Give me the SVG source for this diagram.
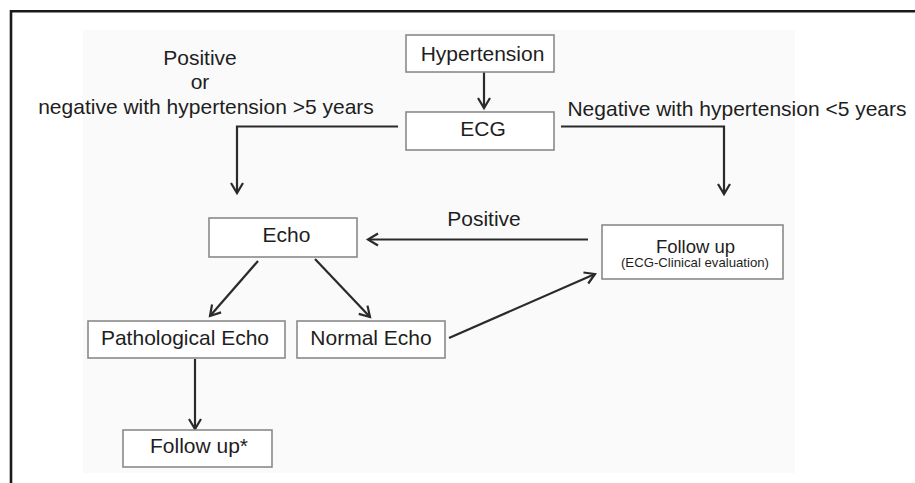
<svg xmlns="http://www.w3.org/2000/svg" width="915" height="483" viewBox="0 0 915 483">
<defs>
<style>
.box{fill:#ffffff;stroke:#8a8a8a;stroke-width:1.6}
.t{font-family:"Liberation Sans",Arial,sans-serif;font-size:21px;fill:#1e1e1e;text-anchor:middle}
.s{font-family:"Liberation Sans",Arial,sans-serif;font-size:13.2px;fill:#1e1e1e;text-anchor:middle}
.c{fill:none;stroke:#2a2a2a;stroke-width:2.2}
</style>
<marker id="arr" markerUnits="userSpaceOnUse" markerWidth="16" markerHeight="16" viewBox="-12 -8 14 16" refX="0" refY="0" orient="auto">
<path d="M-10,-6 L0,0 L-10,6" fill="none" stroke="#2a2a2a" stroke-width="2.2"/>
</marker>
</defs>
<rect x="0" y="0" width="915" height="483" fill="#ffffff"/>
<rect x="83" y="30" width="712" height="443" fill="#fafafa"/>
<path d="M11,483 V11.3 H915" fill="none" stroke="#1a1a1a" stroke-width="2.6"/>

<g id="labels">
<text class="t" x="200" y="65">Positive</text>
<text class="t" x="200" y="89">or</text>
<text class="t" x="206" y="114">negative with hypertension &gt;5 years</text>
<text class="t" x="737" y="115.5">Negative with hypertension &lt;5 years</text>
<text class="t" x="484" y="225.5">Positive</text>
</g>

<g id="connectors">
<line class="c" x1="484" y1="72" x2="484" y2="108" marker-end="url(#arr)"/>
<path class="c" d="M398,126.5 H237 V193" marker-end="url(#arr)" stroke-width="2.8"/>
<path class="c" d="M561,126.5 H724 V194" marker-end="url(#arr)" stroke-width="2.8"/>
<line class="c" x1="588" y1="239.5" x2="368" y2="239.5" marker-end="url(#arr)" stroke-width="2.6"/>
<line class="c" x1="258" y1="261" x2="210" y2="316" marker-end="url(#arr)"/>
<line class="c" x1="315" y1="259" x2="370" y2="317" marker-end="url(#arr)"/>
<line class="c" x1="449" y1="338" x2="595" y2="274" marker-end="url(#arr)"/>
<line class="c" x1="195" y1="359" x2="195" y2="429" marker-end="url(#arr)"/>
</g>

<g id="hypertension">
<rect class="box" x="406" y="35" width="148" height="37"/>
<text class="t" x="482.5" y="61">Hypertension</text>
</g>
<g id="ecg">
<rect class="box" x="406" y="112" width="148" height="38"/>
<text class="t" x="483" y="136">ECG</text>
</g>
<g id="echo">
<rect class="box" x="209" y="218" width="148" height="39"/>
<text class="t" x="286.5" y="242">Echo</text>
</g>
<g id="followup">
<rect class="box" x="602" y="225" width="181" height="54"/>
<text class="t" x="695.5" y="252.5" style="font-size:18.5px">Follow up</text>
<text class="s" x="695" y="267">(ECG-Clinical evaluation)</text>
</g>
<g id="pathological">
<rect class="box" x="88" y="321" width="197" height="37"/>
<text class="t" x="185" y="345">Pathological Echo</text>
</g>
<g id="normal">
<rect class="box" x="297" y="321" width="148" height="37"/>
<text class="t" x="371" y="345">Normal Echo</text>
</g>
<g id="followupstar">
<rect class="box" x="123" y="430" width="149" height="37"/>
<text class="t" x="199" y="453">Follow up*</text>
</g>
</svg>
